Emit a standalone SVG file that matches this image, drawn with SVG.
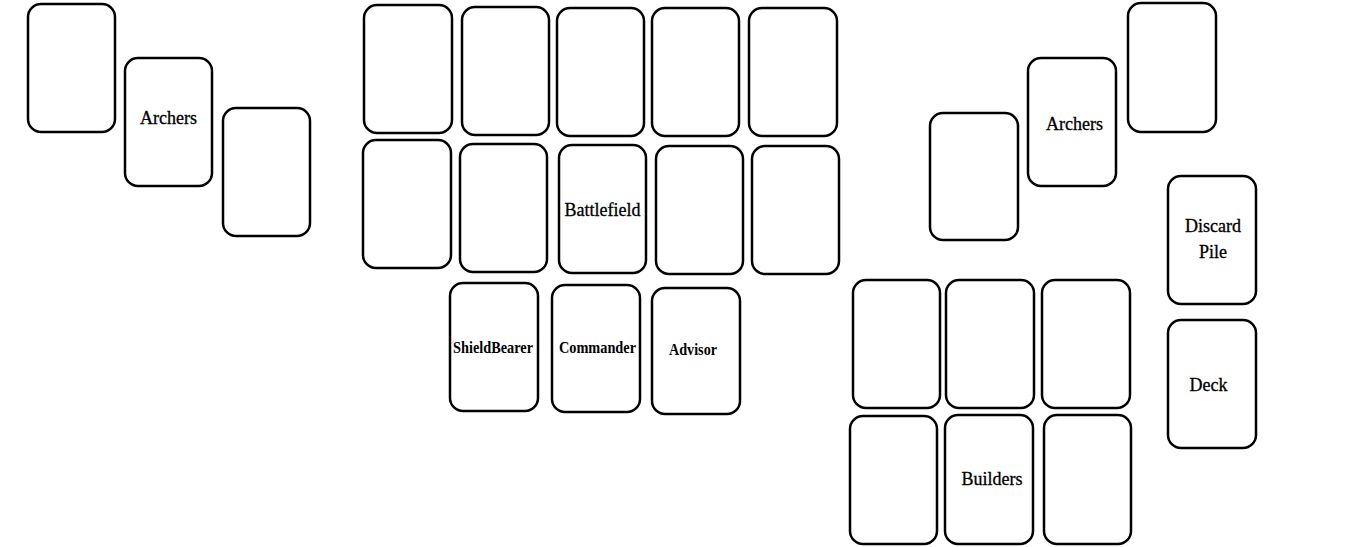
<svg xmlns="http://www.w3.org/2000/svg" width="1348" height="547" viewBox="0 0 1348 547">
<style>
.card{fill:#fff;stroke:#000;stroke-width:2.5}
.t{font-family:"Liberation Serif","Times New Roman",serif;font-size:18px;fill:#000;stroke:#000;stroke-width:0.3;text-anchor:middle}
.b{font-family:"Liberation Serif","Times New Roman",serif;font-size:16px;font-weight:bold;fill:#000;text-anchor:middle}
</style>
<rect width="1348" height="547" fill="#fff"/>
<g id="left-archers">
<g id="la1"><rect class="card" x="28" y="4" width="87" height="128" rx="13"/></g>
<g id="la2"><rect class="card" x="125" y="58" width="87" height="128" rx="13"/><text class="t" x="168.5" y="124">Archers</text></g>
<g id="la3"><rect class="card" x="223" y="108" width="87" height="128" rx="13"/></g>
</g>
<g id="battlefield">
<g id="bf1"><rect class="card" x="364" y="5" width="88" height="128" rx="13"/></g>
<g id="bf2"><rect class="card" x="462" y="7" width="87" height="128" rx="13"/></g>
<g id="bf3"><rect class="card" x="557" y="8" width="87" height="128" rx="13"/></g>
<g id="bf4"><rect class="card" x="652" y="8" width="87" height="128" rx="13"/></g>
<g id="bf5"><rect class="card" x="749" y="8" width="88" height="128" rx="13"/></g>
<g id="bf6"><rect class="card" x="363" y="140" width="88" height="128" rx="13"/></g>
<g id="bf7"><rect class="card" x="460" y="144" width="87" height="128" rx="13"/></g>
<g id="bf8"><rect class="card" x="559" y="145" width="87" height="128" rx="13"/><text class="t" x="602.5" y="216">Battlefield</text></g>
<g id="bf9"><rect class="card" x="656" y="146" width="87" height="128" rx="13"/></g>
<g id="bf10"><rect class="card" x="752" y="146" width="87" height="128" rx="13"/></g>
</g>
<g id="support">
<g id="shieldbearer"><rect class="card" x="450" y="283" width="88" height="128" rx="13"/><text class="b" x="493" y="353" textLength="80" lengthAdjust="spacingAndGlyphs">ShieldBearer</text></g>
<g id="commander"><rect class="card" x="552" y="285" width="88" height="127" rx="13"/><text class="b" x="597.5" y="353" textLength="77" lengthAdjust="spacingAndGlyphs">Commander</text></g>
<g id="advisor"><rect class="card" x="652" y="288" width="88" height="126" rx="13"/><text class="b" x="693" y="355" textLength="48" lengthAdjust="spacingAndGlyphs">Advisor</text></g>
</g>
<g id="right-archers">
<g id="ra1"><rect class="card" x="930" y="113" width="88" height="127" rx="13"/></g>
<g id="ra2"><rect class="card" x="1028" y="58" width="88" height="128" rx="13"/><text class="t" x="1074.5" y="130">Archers</text></g>
<g id="ra3"><rect class="card" x="1128" y="3" width="88" height="129" rx="13"/></g>
</g>
<g id="builders">
<g id="bu1"><rect class="card" x="853" y="280" width="87" height="128" rx="13"/></g>
<g id="bu2"><rect class="card" x="946" y="280" width="88" height="128" rx="13"/></g>
<g id="bu3"><rect class="card" x="1042" y="280" width="88" height="128" rx="13"/></g>
<g id="bu4"><rect class="card" x="850" y="416" width="87" height="128" rx="13"/></g>
<g id="bu5"><rect class="card" x="945" y="415" width="88" height="129" rx="13"/><text class="t" x="992" y="485">Builders</text></g>
<g id="bu6"><rect class="card" x="1044" y="415" width="87" height="129" rx="13"/></g>
</g>
<g id="discard"><rect class="card" x="1168" y="176" width="88" height="128" rx="13"/><text class="t" x="1213" y="232">Discard</text><text class="t" x="1213" y="258">Pile</text></g>
<g id="deck"><rect class="card" x="1168" y="320" width="88" height="128" rx="13"/><text class="t" x="1208.5" y="391">Deck</text></g>
<g id="connectors"></g>
</svg>
